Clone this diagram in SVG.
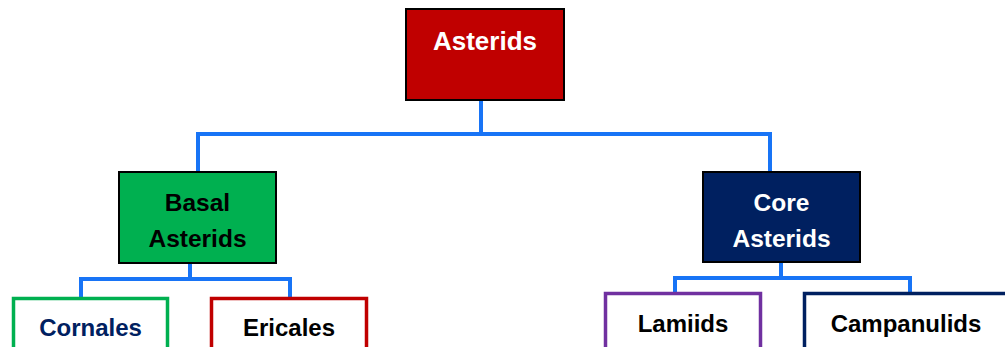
<svg xmlns="http://www.w3.org/2000/svg" width="1005" height="347" viewBox="0 0 1005 347">
  <style>
    .lbl { font-family: "Liberation Sans", Arial, sans-serif; font-weight: bold; text-anchor: middle; }
    .link { fill: none; stroke: #1874F6; stroke-width: 4; stroke-linejoin: miter; }
  </style>
  <rect width="1005" height="347" fill="#ffffff"/>

  <!-- connectors -->
  <g id="connectors">
    <path class="link" d="M481 100 V134 M198 172 V134 H770 V172"/>
    <path class="link" d="M190 263 V279 M81 297 V279 H290 V297"/>
    <path class="link" d="M781 262 V278 M675 292 V278 H910 V292"/>
  </g>

  <!-- root -->
  <g id="asterids">
    <rect x="406" y="9" width="158" height="91" fill="#C00000" stroke="#000000" stroke-width="2"/>
    <text class="lbl" x="485" y="50" font-size="26" fill="#ffffff">Asterids</text>
  </g>

  <!-- second level -->
  <g id="basal-asterids">
    <rect x="119" y="172" width="157" height="91" fill="#00B050" stroke="#000000" stroke-width="2"/>
    <text class="lbl" x="197.5" y="211" font-size="24.5" fill="#000000">Basal</text>
    <text class="lbl" x="197.5" y="247" font-size="24.5" fill="#000000">Asterids</text>
  </g>
  <g id="core-asterids">
    <rect x="703" y="172" width="157" height="90" fill="#002060" stroke="#000000" stroke-width="2"/>
    <text class="lbl" x="781.5" y="211" font-size="24.5" fill="#ffffff">Core</text>
    <text class="lbl" x="781.5" y="247" font-size="24.5" fill="#ffffff">Asterids</text>
  </g>

  <!-- third level -->
  <g id="cornales">
    <rect x="13.5" y="298.5" width="154" height="60" fill="#ffffff" stroke="#00B050" stroke-width="3.5"/>
    <text class="lbl" x="90.5" y="336" font-size="24" fill="#002060">Cornales</text>
  </g>
  <g id="ericales">
    <rect x="211.5" y="298.5" width="155" height="60" fill="#ffffff" stroke="#C00000" stroke-width="3.5"/>
    <text class="lbl" x="289" y="336" font-size="24" fill="#000000">Ericales</text>
  </g>
  <g id="lamiids">
    <rect x="605.5" y="293.5" width="155" height="60" fill="#ffffff" stroke="#7030A0" stroke-width="3.5"/>
    <text class="lbl" x="683" y="332" font-size="24" fill="#000000">Lamiids</text>
  </g>
  <g id="campanulids">
    <rect x="804.5" y="293.5" width="206" height="60" fill="#ffffff" stroke="#002060" stroke-width="3.5"/>
    <text class="lbl" x="906" y="332" font-size="24" fill="#000000">Campanulids</text>
  </g>
</svg>
